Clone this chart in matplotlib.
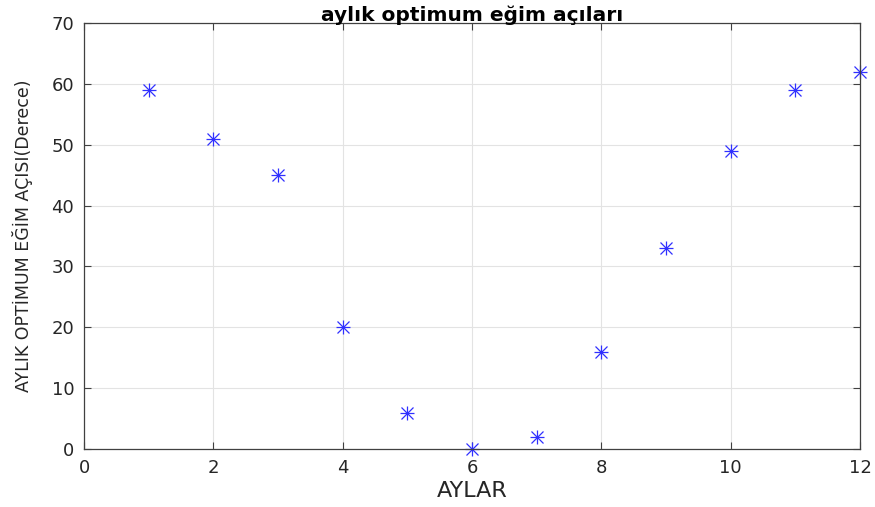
import matplotlib
matplotlib.use("Agg")
import matplotlib.pyplot as plt

months = [1, 2, 3, 4, 5, 6, 7, 8, 9, 10, 11, 12]
angles = [59, 51, 45, 20, 6, 0, 2, 16, 33, 49, 59, 62]

plt.rcParams["font.family"] = ["DejaVu Sans"]

fig = plt.figure(figsize=(8.75, 5.07), dpi=100)
ax = fig.add_axes([0.096, 0.114, 0.887, 0.841])

# MATLAB-style asterisk: a plus and a cross on top of each other
for m in ["+", "x"]:
    ax.plot(months, angles, linestyle="none", marker=m, color="#3030ff",
            markersize=10 if m == "+" else 8, markeredgewidth=0.9,
            clip_on=False)

ax.set_xlim(0, 12)
ax.set_ylim(0, 70)
ax.set_xticks(range(0, 13, 2))
ax.set_yticks(range(0, 71, 10))
ax.grid(True, color="#e3e3e3", linewidth=0.8)
ax.set_axisbelow(True)
ax.tick_params(direction="in", length=5, width=0.8, color="#404040",
               labelsize=13, labelcolor="#262626", top=True, right=True,
               labeltop=False, labelright=False, pad=7)
for s in ax.spines.values():
    s.set_color("#404040")
    s.set_linewidth(0.9)

ax.set_title("aylık optimum eğim açıları", fontsize=14.5, fontweight="bold", pad=1)
ax.set_xlabel("AYLAR", fontsize=16, color="#262626", labelpad=3)
ax.set_ylabel("AYLIK OPTİMUM EĞİM AÇISI(Derece)", fontsize=12.5, color="#262626",
              labelpad=13)

fig.savefig("out.png", dpi=100)
